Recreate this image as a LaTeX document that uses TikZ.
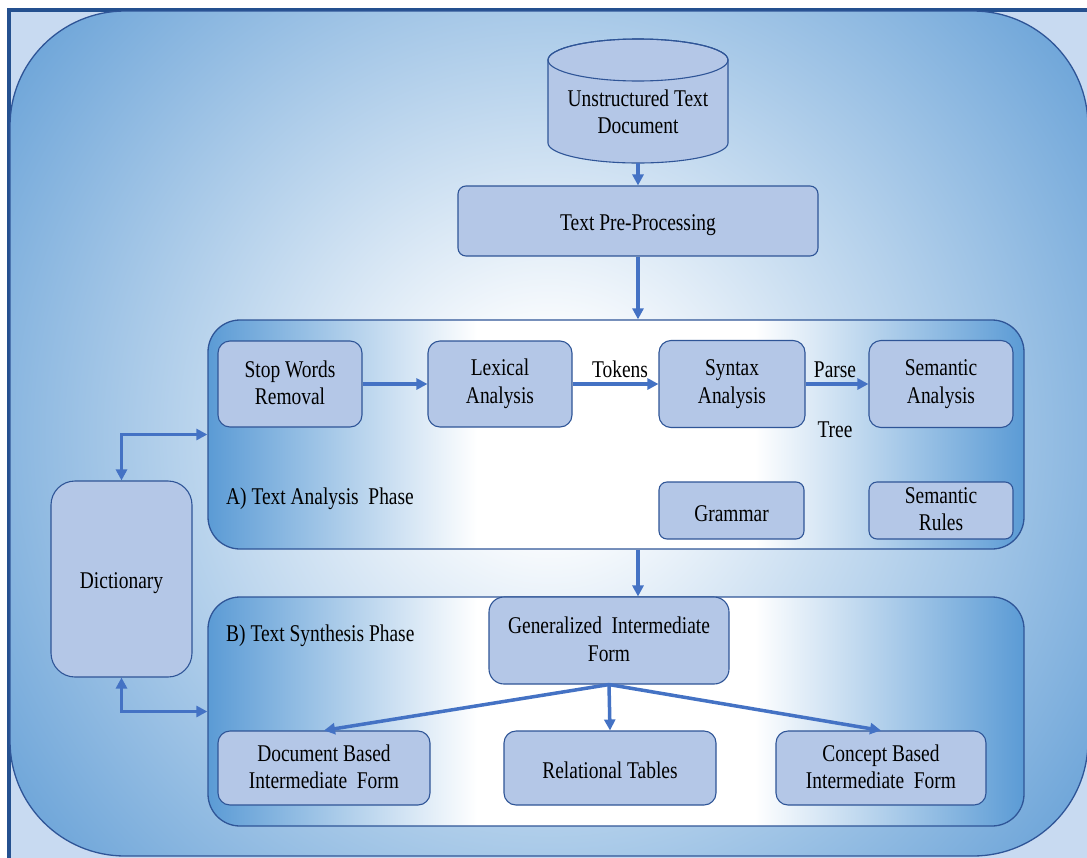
\documentclass[tikz,border=0pt]{standalone}
\usepackage{fontspec}
\setmainfont{Liberation Serif}[FakeStretch=0.81]
\usetikzlibrary{arrows.meta}

\definecolor{boxfill}{HTML}{B4C7E7}
\definecolor{boxline}{HTML}{2F5597}
\definecolor{arrowblue}{HTML}{4472C4}
\definecolor{framebg}{HTML}{C8DAF1}
\definecolor{frameline}{HTML}{24508F}
\definecolor{glowblue}{HTML}{649FD6}
\definecolor{panelblue}{HTML}{5B9BD5}

% white centre fading to blue towards the corners (25bp = half the shaded box)
\pgfdeclareradialshading{bgglow}{\pgfpoint{0bp}{0bp}}{color(0bp)=(white); color(3bp)=(white); color(25bp)=(glowblue); color(50bp)=(glowblue)}
% blue edges, white middle band (path spans 25bp..75bp)
\pgfdeclarehorizontalshading{panelglow}{100bp}{color(0bp)=(panelblue); color(25bp)=(panelblue); color(41.5bp)=(white); color(58.5bp)=(white); color(75bp)=(panelblue); color(100bp)=(panelblue)}

% uniform line height for node text
\newcommand\mystrut{\rule[-3pt]{0pt}{27.5pt}}

\tikzset{
  box/.style={draw=boxline, line width=1.1pt, fill=boxfill, rounded corners=12pt,
    align=center, inner sep=2pt,
    execute at begin node=\mystrut, execute at end node=\mystrut},
  panel/.style={draw=boxline, line width=1.3pt, shade, shading=panelglow,
    rounded corners=32pt, inner sep=0pt, minimum width=816pt, minimum height=229pt},
  lbl/.style={inner sep=0pt, align=center,
    execute at begin node=\mystrut, execute at end node=\mystrut},
  flow/.style={draw=arrowblue, line width=3.5pt, -{Triangle[length=11pt,width=11pt]}},
  twoway/.style={draw=arrowblue, line width=3.2pt,
    {Triangle[length=11pt,width=11pt]}-{Triangle[length=11pt,width=11pt]}},
}

\begin{document}
\begin{tikzpicture}[x=1pt, y=-1pt, font=\fontsize{24pt}{27.5pt}\selectfont]
  \clip (0,0) rectangle (1087,857);
  \fill[white] (0,0) rectangle (1087,857);

  % page frame
  \draw[frameline, line width=4pt, fill=framebg] (8.5,9.5) rectangle (1100,870);

  % large rounded background
  \begin{scope}
    \clip[rounded corners=115pt] (10,11) rectangle (1088,856);
    \shade[shading=bgglow] (549,434) circle (690);
  \end{scope}
  \draw[boxline, line width=1.3pt, rounded corners=115pt] (10,11) rectangle (1088,856);

  % document store (cylinder)
  \filldraw[fill=boxfill, draw=boxline, line width=1.1pt]
    (548,60) -- (548,143) arc[start angle=180, end angle=0, x radius=90, y radius=20]
    -- (728,60) arc[start angle=0, end angle=-180, x radius=90, y radius=21] -- cycle;
  \draw[boxline, line width=1.1pt] (638,60) ellipse [x radius=90, y radius=21];
  \node[lbl, minimum width=180pt, minimum height=100pt] (doc) at (638,113)
    {Unstructured Text\\Document};

  \node[box, rounded corners=8pt, minimum width=360pt, minimum height=70pt] (pre)
    at (638,221) {Text Pre-Processing};

  % phase panels
  \node[panel] (pA) at (616,434.5) {};
  \node[panel] (pB) at (616,711.5) {};
  \node[lbl, anchor=west] (pAlbl) at (226,495) {A) Text Analysis\ \ Phase};
  \node[lbl, anchor=west] (pBlbl) at (226,632) {B) Text Synthesis Phase};

  % analysis phase
  \node[box, minimum width=144pt, minimum height=86pt] (sw) at (290,384) {Stop Words\\Removal};
  \node[box, minimum width=144pt, minimum height=86pt] (lex) at (500,384) {Lexical\\Analysis};
  \node[box, minimum width=146pt, minimum height=87pt] (syn) at (732,384) {Syntax\\Analysis};
  \node[box, minimum width=144pt, minimum height=87pt] (sem) at (941,384) {Semantic\\Analysis};
  \node[box, rounded corners=8pt, minimum width=145pt, minimum height=57pt] (gram)
    at (731.5,510.5) {Grammar};
  \node[box, rounded corners=8pt, minimum width=144pt, minimum height=57pt] (rules)
    at (941,510.5) {Semantic\\Rules};
  \node[lbl] (tok) at (620,367) {Tokens};
  \node[lbl] (parse) at (835,367) {Parse};
  \node[lbl] (tree) at (835,427) {Tree};

  % dictionary
  \node[box, rounded corners=24pt, minimum width=141pt, minimum height=196pt] (dict)
    at (121.5,579) {Dictionary};

  % synthesis phase
  \node[box, rounded corners=15pt, minimum width=240pt, minimum height=87pt] (gif)
    at (609,640.5) {Generalized\ \ Intermediate\\Form};
  \node[box, minimum width=212pt, minimum height=74pt] (dbif) at (324,768)
    {Document Based\\Intermediate\ \ Form};
  \node[box, minimum width=212pt, minimum height=74pt] (rel) at (610,768)
    {Relational Tables};
  \node[box, minimum width=210pt, minimum height=74pt] (cbif) at (881,768)
    {Concept Based\\Intermediate\ \ Form};

  % connectors
  \draw[flow] (doc.south) -- (pre.north);
  \draw[flow] (pre.south) -- (pA.north -| pre.south);
  \draw[flow] (sw.east) -- (lex.west);
  \draw[flow] (lex.east) -- (syn.west);
  \draw[flow] (syn.east) -- (sem.west);
  \draw[twoway] (dict.north) |- (pA.west);
  \draw[twoway] (dict.south) |- (pB.west);
  \draw[flow] (pA.south -| pre.south) -- (gif.north -| pre.south);
  \draw[flow] (gif.south) -- (dbif.north);
  \draw[flow] (gif.south) -- (rel.north);
  \draw[flow] (gif.south) -- (cbif.north);
\end{tikzpicture}
\end{document}
